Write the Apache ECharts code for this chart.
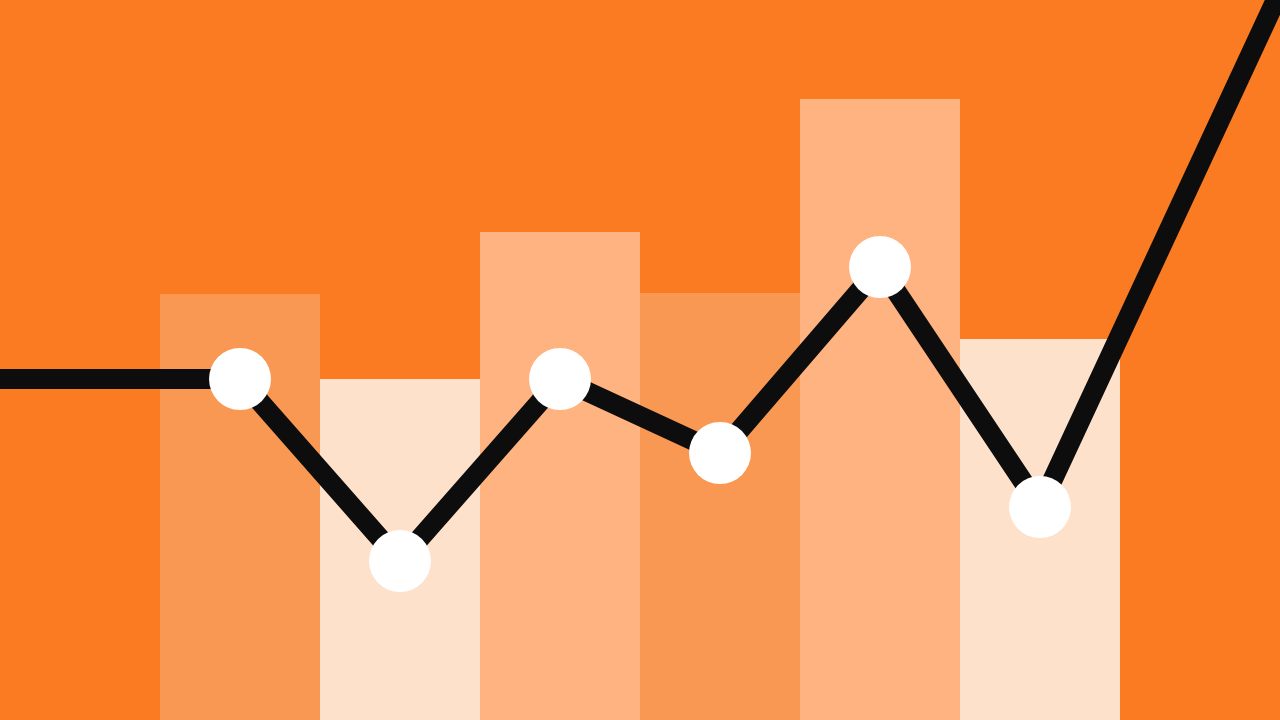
<!DOCTYPE html>
<html>
<head>
<meta charset="utf-8">
<script src="https://cdn.jsdelivr.net/npm/echarts@6/dist/echarts.min.js"></script>
<style>
html,body{margin:0;padding:0;width:1280px;height:720px;overflow:hidden;background:#FA7B21;}
#c{width:1280px;height:720px;}
</style>
</head>
<body>
<div id="c"></div>
<script>
const barX = [1.5, 2.5, 3.5, 4.5, 5.5, 6.5];
const barValues = [426, 341, 488, 427, 621, 381];
const barColors = ['#F99852', '#FEE1CB', '#FEB380', '#F99852', '#FEB380', '#FEE1CB'];
const lineX = [0, 1.5, 2.5, 3.5, 4.5, 5.5, 6.5, 8];
const lineValues = [341, 341, 159, 341, 267, 453, 213, 729];

const chart = echarts.init(document.getElementById('c'), null, {renderer: 'canvas'});
chart.setOption({
  animation: false,
  backgroundColor: '#FA7B21',
  grid: {left: 0, right: 0, top: 0, bottom: 0},
  xAxis: {type: 'value', min: 0, max: 8, show: false},
  yAxis: {type: 'value', min: 0, max: 720, show: false},
  series: [
    {
      type: 'bar',
      barWidth: 160,
      data: barX.map((x, i) => ({value: [x, barValues[i]], itemStyle: {color: barColors[i]}}))
    },
    {
      type: 'line',
      clip: true,
      symbol: 'circle',
      symbolSize: 62,
      lineStyle: {color: '#0D0D0D', width: 20},
      itemStyle: {color: '#FFFFFF', borderWidth: 0},
      data: lineX.map((x, i) => ({
        value: [x, lineValues[i]],
        symbol: (i === 0 || i === lineX.length - 1) ? 'none' : 'circle'
      }))
    }
  ]
});
</script>
</body>
</html>
